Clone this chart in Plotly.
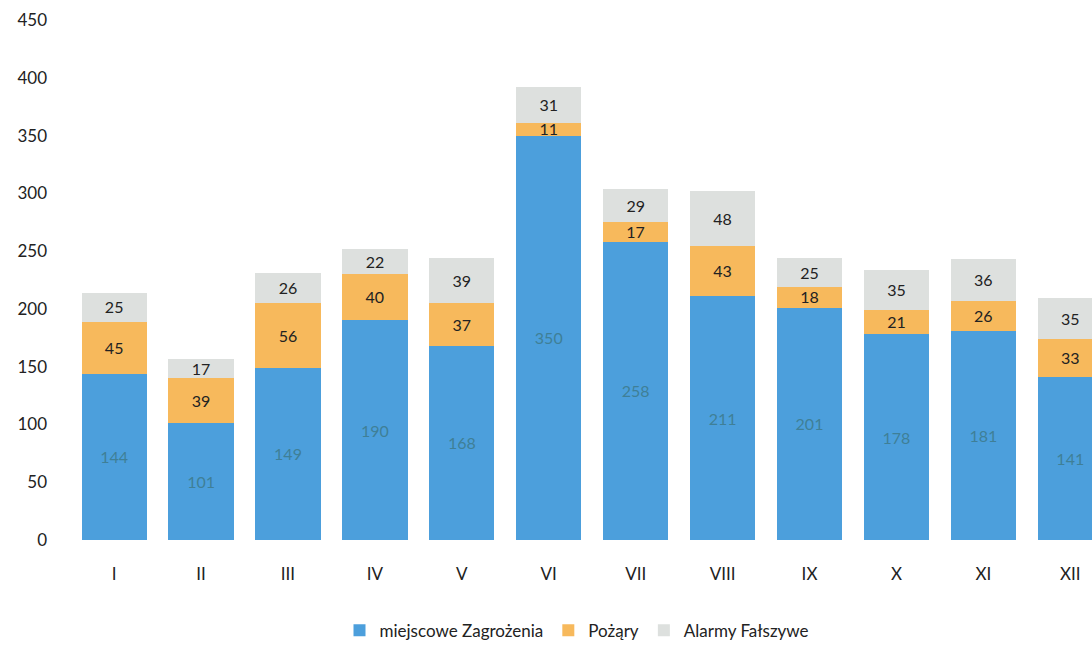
import plotly.graph_objects as go

months = ["I", "II", "III", "IV", "V", "VI", "VII", "VIII", "IX", "X", "XI", "XII"]
miejscowe = [144, 101, 149, 190, 168, 350, 258, 211, 201, 178, 181, 141]
pozary = [45, 39, 56, 40, 37, 11, 17, 43, 18, 21, 26, 33]
alarmy = [25, 17, 26, 22, 39, 31, 29, 48, 25, 35, 36, 35]
y_ticks = [0, 50, 100, 150, 200, 250, 300, 350, 400, 450]

FONT = "Lato"

segments = [
    ("miejscowe Zagrożenia", miejscowe, "#4c9fdc", "#3f7f97", 16),
    ("Pożąry", pozary, "#f7b95c", "#222222", 17),
    ("Alarmy Fałszywe", alarmy, "#dde0de", "#222222", 17),
]

fig = go.Figure()
for name, values, fill, label_color, label_size in segments:
    fig.add_trace(go.Bar(
        x=months, y=values, name=name,
        marker=dict(color=fill, line=dict(width=0)),
        text=values, textposition="inside", insidetextanchor="middle",
        textangle=0, constraintext="none",
        textfont=dict(family=FONT, size=label_size, color=label_color),
    ))

fig.update_layout(
    barmode="stack",
    bargap=0.25,
    width=1092, height=667,
    margin=dict(l=62, r=0, t=20, b=127),
    paper_bgcolor="white", plot_bgcolor="white",
    font=dict(family=FONT, size=16, color="#222222"),
    uniformtext=dict(mode="show", minsize=15),
    showlegend=True,
    legend=dict(
        orientation="h", x=0.5, xanchor="center", y=-0.14, yanchor="top",
        font=dict(family=FONT, size=17, color="#222222"),
        itemwidth=30, traceorder="normal",
    ),
    xaxis=dict(
        type="category", range=[-0.6, 11.25],
        showgrid=False, showline=False, ticks="",
        tickfont=dict(family=FONT, size=17, color="#222222"),
        ticklabelstandoff=22,
    ),
    yaxis=dict(
        range=[0, 450], tickvals=y_ticks,
        showgrid=False, showline=False, zeroline=False, ticks="",
        tickfont=dict(family=FONT, size=17, color="#222222"),
        ticklabelstandoff=14,
    ),
)

fig.write_html("out.html")
